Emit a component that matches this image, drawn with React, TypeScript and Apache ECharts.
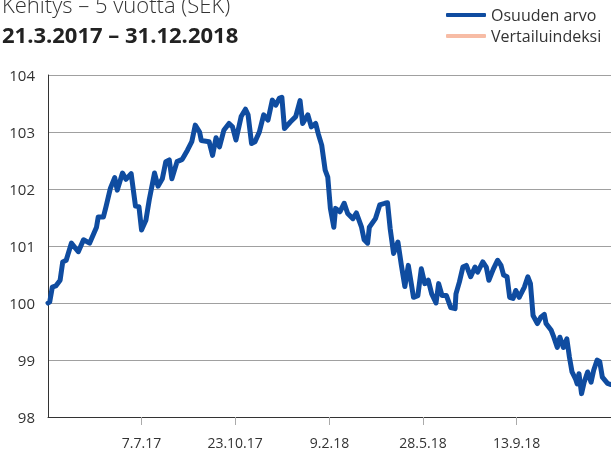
import React, { useEffect, useRef } from "react";
import * as echarts from "echarts";

const startDate = [2017, 2, 21]; // 21.3.2017
const titleLine1 = "Kehitys – 5 vuotta (SEK)";
const titleLine2 = "21.3.2017 – 31.12.2018";
const seriesNames = ["Osuuden arvo", "Vertailuindeksi"];
const totalDays = 650;
const tickLabels = ["7.7.17", "23.10.17", "9.2.18", "28.5.18", "13.9.18"];
const yTicks = [98, 99, 100, 101, 102, 103, 104];

// days since 21.3.2017
const days = [
  0, 2, 5, 9, 14, 17, 21, 27, 35, 41,
  48, 56, 58, 64, 67, 72, 77, 80, 86, 90,
  96, 101, 105, 108, 113, 117, 123, 127, 132, 136,
  140, 143, 149, 155, 161, 166, 170, 175, 177, 186,
  190, 194, 198, 203, 209, 213, 217, 223, 228, 231,
  235, 239, 244, 249, 254, 259, 263, 267, 270, 273,
  280, 286, 291, 294, 300, 304, 309, 312, 316, 320,
  323, 326, 330, 332, 337, 342, 346, 352, 356, 362,
  365, 369, 371, 378, 383, 389, 392, 395, 399, 404,
  408, 412, 416, 422, 427, 431, 435, 439, 443, 448,
  451, 455, 460, 465, 470, 471, 475, 479, 483, 488,
  493, 496, 502, 506, 509, 514, 519, 523, 526, 530,
  533, 537, 540, 544, 550, 554, 557, 560, 565, 569,
  573, 575, 581, 584, 588, 591, 595, 599, 602, 605,
  609, 611, 613, 616, 619, 623, 627, 630, 634, 637,
  640, 646, 650,
];

const fundValues = [
  100.0, 100.02, 100.28, 100.3, 100.4, 100.72, 100.75, 101.05, 100.9, 101.11,
  101.05, 101.33, 101.51, 101.51, 101.69, 102.01, 102.2, 101.98, 102.28, 102.17,
  102.27, 101.7, 101.69, 101.28, 101.45, 101.82, 102.28, 102.05, 102.18, 102.48,
  102.51, 102.18, 102.48, 102.52, 102.68, 102.83, 103.12, 103.0, 102.85, 102.83,
  102.59, 102.9, 102.74, 103.03, 103.15, 103.09, 102.86, 103.27, 103.4, 103.3,
  102.8, 102.83, 103.0, 103.3, 103.21, 103.56, 103.47, 103.59, 103.61, 103.06,
  103.18, 103.27, 103.55, 103.15, 103.3, 103.09, 103.15, 102.97, 102.77, 102.33,
  102.21, 101.66, 101.33, 101.66, 101.6, 101.75, 101.57, 101.48, 101.58, 101.33,
  101.11, 101.05, 101.33, 101.48, 101.72, 101.75, 101.76, 101.31, 100.87, 101.07,
  100.66, 100.29, 100.66, 100.1, 100.13, 100.6, 100.34, 100.4, 100.16, 100.0,
  100.34, 100.13, 100.13, 99.92, 99.9, 100.16, 100.37, 100.63, 100.66, 100.46,
  100.63, 100.54, 100.72, 100.63, 100.4, 100.59, 100.75, 100.66, 100.49, 100.46,
  100.1, 100.08, 100.22, 100.1, 100.28, 100.46, 100.34, 99.78, 99.64, 99.75,
  99.8, 99.64, 99.52, 99.4, 99.22, 99.4, 99.22, 99.37, 99.05, 98.79,
  98.67, 98.58, 98.76, 98.41, 98.61, 98.79, 98.61, 98.82, 99.0, 98.97,
  98.7, 98.59, 98.57,
];

const benchmarkValues: number[] = [];

const DAY = 86400000;
function labelToDay(lbl: string): number {
  const [d, m, y] = lbl.split(".").map(Number);
  const t = Date.UTC(2000 + y, m - 1, d);
  const s = Date.UTC(startDate[0], startDate[1], startDate[2]);
  return Math.round((t - s) / DAY);
}

export default function App() {
  const ref = useRef<HTMLDivElement>(null);
  useEffect(() => {
    if (!ref.current) return;
    const chart = echarts.init(ref.current, undefined, { renderer: "svg" });
    const tickDays = tickLabels.map(labelToDay);
    const fontFamily = '"Open Sans", "Noto Sans", sans-serif';
    chart.setOption({
      animation: false,
      textStyle: { fontFamily },
      grid: { left: 48, top: 75, width: 566, height: 342 },
      legend: {
        orient: "vertical",
        left: 441,
        top: 1,
        itemWidth: 40,
        itemHeight: 4,
        itemGap: 3,
        icon: "roundRect",
        data: seriesNames,
        textStyle: { fontSize: 16, color: "#333", lineHeight: 18, fontFamily },
      },
      graphic: [
        {
          type: "text",
          left: 2,
          top: -7,
          style: { text: titleLine1, font: `300 22px ${fontFamily}`, fill: "#333" },
        },
        {
          type: "text",
          left: 2,
          top: 23,
          style: { text: titleLine2, font: `bold 22px ${fontFamily}`, fill: "#222" },
        },
      ],
      xAxis: {
        type: "value",
        min: 0,
        max: totalDays,
        splitLine: { show: false },
        axisLine: { show: true, lineStyle: { color: "#333", width: 1 } },
        axisTick: {
          show: true,
          customValues: tickDays,
          length: 8,
          lineStyle: { color: "#aaa", width: 1 },
        },
        axisLabel: {
          customValues: tickDays,
          margin: 18,
          fontSize: 14,
          color: "#333",
          formatter: (v: number) => {
            const i = tickDays.indexOf(Math.round(v));
            return i >= 0 ? tickLabels[i] : "";
          },
        },
      },
      yAxis: {
        type: "value",
        min: yTicks[0],
        max: yTicks[yTicks.length - 1],
        interval: 1,
        axisLine: { show: true, lineStyle: { color: "#333", width: 1 } },
        axisTick: { show: false },
        splitLine: { show: true, lineStyle: { color: "#a0a0a0", width: 1 } },
        axisLabel: { margin: 13, fontSize: 15, color: "#333" },
      },
      series: [
        {
          name: seriesNames[0],
          type: "line",
          data: days.map((d, i) => [d, fundValues[i]]),
          showSymbol: false,
          symbol: "none",
          color: "#0f4ca0",
          lineStyle: { width: 5, color: "#0f4ca0", join: "round", cap: "round" },
        },
        {
          name: seriesNames[1],
          type: "line",
          data: benchmarkValues,
          showSymbol: false,
          symbol: "none",
          color: "#f7bca5",
          lineStyle: { width: 5, color: "#f7bca5" },
        },
      ],
    });
    return () => chart.dispose();
  }, []);
  return <div ref={ref} style={{ width: 611, height: 458, position: "fixed", left: 0, top: 0 }} />;
}
